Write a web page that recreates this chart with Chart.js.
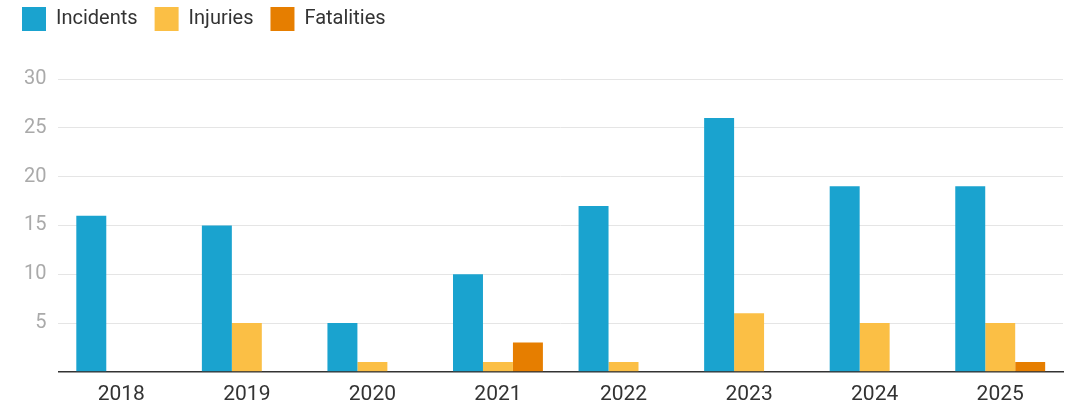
<!DOCTYPE html>
<html>
<head>
<meta charset="utf-8">
<script src="https://cdn.jsdelivr.net/npm/chart.js@4"></script>
<style>
  html, body { margin: 0; padding: 0; background: #fff; }
  #wrap { width: 1071px; height: 406px; }
</style>
</head>
<body>
<div id="wrap"><canvas id="incidentsChart" width="1071" height="406"></canvas></div>
<script>
const years = ["2018", "2019", "2020", "2021", "2022", "2023", "2024", "2025"];
const incidents = [16, 15, 5, 10, 17, 26, 19, 19];
const injuries = [0, 5, 1, 1, 1, 6, 5, 5];
const fatalities = [0, 0, 0, 3, 0, 0, 0, 1];

Chart.defaults.font.family = "Roboto";

// push the plot area down below the legend
const legendGap = {
    id: "legendGap",
    beforeInit(chart) {
        const fit = chart.legend.fit;
        chart.legend.fit = function () {
            fit.bind(chart.legend)();
            this.height += 38;
        };
    }
};

const ctx = document.getElementById("incidentsChart");

new Chart(ctx, {
    type: "bar",
    data: {
        labels: years,
        datasets: [
            { label: "Incidents", data: incidents, backgroundColor: "#1aa3cf" },
            { label: "Injuries", data: injuries, backgroundColor: "#fbbf45" },
            { label: "Fatalities", data: fatalities, backgroundColor: "#e67e00" }
        ]
    },
    plugins: [legendGap],
    options: {
        responsive: false,
        animation: false,
        layout: { padding: { left: 5, right: 8, top: -10, bottom: -11 } },
        datasets: { bar: { barPercentage: 1, categoryPercentage: 0.716 } },
        plugins: {
            tooltip: { enabled: false },
            legend: {
                position: "top",
                align: "start",
                labels: {
                    boxWidth: 24,
                    boxHeight: 24,
                    padding: 17,
                    color: "#333",
                    font: { size: 20 }
                }
            }
        },
        scales: {
            x: {
                grid: { display: false, drawTicks: false },
                border: { display: true, color: "#333", width: 1.5 },
                ticks: { color: "#333", font: { size: 21 }, padding: 10 }
            },
            y: {
                min: 0,
                max: 30,
                afterFit(scale) { scale.width += 7; },
                ticks: {
                    stepSize: 5,
                    color: "#aaa",
                    font: { size: 20 },
                    padding: 12,
                    callback: (v) => (v === 0 ? "" : v)
                },
                grid: { color: "#e5e5e5", drawTicks: false },
                border: { display: false }
            }
        }
    }
});
</script>
</body>
</html>
